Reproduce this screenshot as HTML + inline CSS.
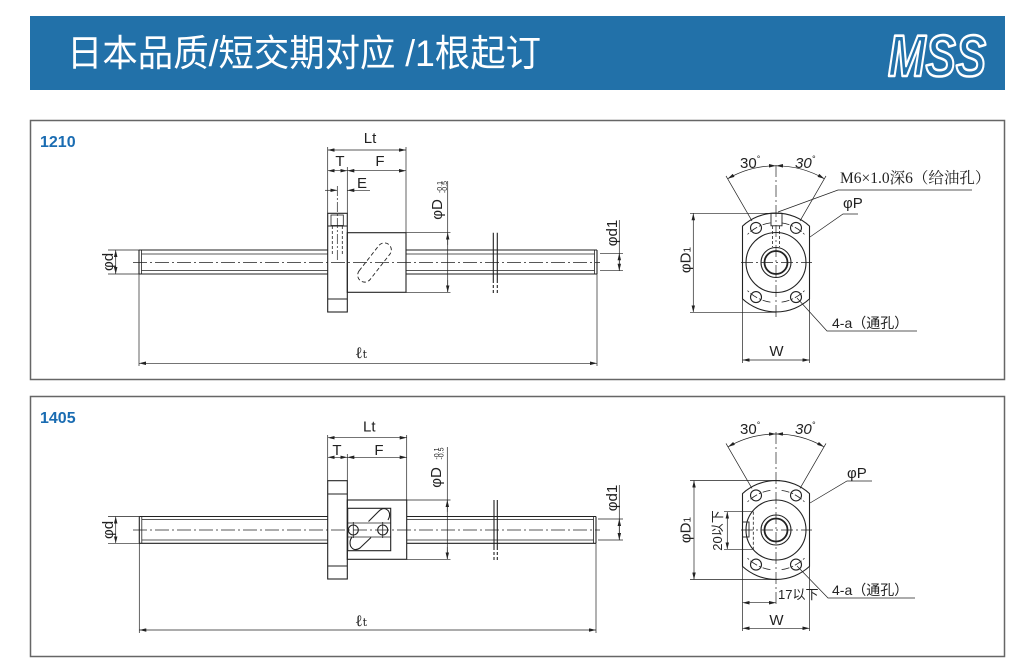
<!DOCTYPE html>
<html><head><meta charset="utf-8"><style>html,body{margin:0;padding:0;background:#fff}svg{display:block}</style></head>
<body>
<svg width="1031" height="664" viewBox="0 0 1031 664" xmlns="http://www.w3.org/2000/svg">
<defs>
<marker id="a" viewBox="0 0 8 4" refX="8" refY="2" markerWidth="7" markerHeight="3.5" markerUnits="userSpaceOnUse" orient="auto-start-reverse"><path d="M0,0L8,2L0,4z" fill="#222"/></marker>
</defs>
<rect x="30" y="16" width="975" height="74" fill="#2271a9"/>
<text x="67" y="66" font-family="'Liberation Sans','Noto Sans CJK SC',sans-serif" font-size="37" fill="#fff" textLength="474" lengthAdjust="spacingAndGlyphs">日本品质/短交期对应 /1根起订</text>
<text x="888" y="76" font-family="'Liberation Sans',sans-serif" font-weight="bold" font-style="italic" font-size="58" fill="#2271a9" stroke="#fff" stroke-width="2.6" stroke-linejoin="round" textLength="98" lengthAdjust="spacingAndGlyphs">MSS</text>

<rect x="30.5" y="120.5" width="974" height="259" fill="none" stroke="#666" stroke-width="1.5"/>
<rect x="30.5" y="396.5" width="974" height="260" fill="none" stroke="#666" stroke-width="1.5"/>

<g font-family="'Liberation Sans',sans-serif" font-weight="bold" font-size="16" fill="#1a6cb2">
<text x="40" y="147">1210</text>
<text x="40" y="423">1405</text>
</g>

<!-- ============ PANEL 1 LEFT ============ -->
<g stroke="#222" fill="none" stroke-width="1.1">
<path d="M139,250H328M139,274H328M139,250V274M406,250H597M406,274H597M597,250V274"/>
<path d="M141.5,254H328M141.5,270.5H328M141.5,250V274M406,254H594.5M406,270.5H594.5M594.5,250V274" stroke-width="0.8"/>
<rect x="327.7" y="213.3" width="19.6" height="98.7"/>
<path d="M327.7,226H347.3M327.7,299H347.3"/>
<rect x="331" y="215" width="12.3" height="10.5" stroke-width="0.8"/>
<path d="M332.3,226V256M342.3,226V256" stroke-dasharray="3 2" stroke-width="0.8"/>
<rect x="347.3" y="232.7" width="58.7" height="59.6"/>
<rect x="-23" y="-7" width="46" height="14" rx="7" transform="translate(374.5,262.5) rotate(-52)" stroke-dasharray="4 2.5" stroke-width="0.9"/>
<path d="M133,262.5H600" stroke-dasharray="14 3 2 3" stroke-width="0.8"/>
<path d="M337.3,186V262" stroke-dasharray="10 2 2 2" stroke-width="0.7"/>
<path d="M493.3,232.7V283M497.3,232.7V283"/>
<path d="M493.3,285V293.3M497.3,285V293.3" stroke-dasharray="3 2"/>
</g>
<g stroke="#222" fill="none" stroke-width="0.7">
<path d="M327.7,150H406" marker-start="url(#a)" marker-end="url(#a)"/>
<path d="M327.7,147V213.3M406,147V232.7M347.3,167V213.3"/>
<path d="M327.7,170.7H347.3" marker-start="url(#a)" marker-end="url(#a)"/>
<path d="M347.3,170.7H406" marker-start="url(#a)" marker-end="url(#a)"/>
<path d="M325,190.3H337.3" marker-end="url(#a)"/>
<path d="M370,190.3H347.3" marker-end="url(#a)"/>
<path d="M447.7,181V292.3M406,232.7H450.5M406,292.3H450.5"/>
<path d="M447.7,245V232.7" marker-end="url(#a)"/>
<path d="M447.7,280V292.3" marker-end="url(#a)"/>
<path d="M619.3,220V270.7M600,253.3H623M600,270.7H623"/>
<path d="M619.3,262V253.3" marker-end="url(#a)"/>
<path d="M619.3,262V270.7" marker-end="url(#a)"/>
<path d="M139,363.3H597" marker-start="url(#a)" marker-end="url(#a)"/>
<path d="M139,274V366M597,274V366"/>
<path d="M115.7,250V274" marker-start="url(#a)" marker-end="url(#a)"/>
<path d="M108,250H139M108,274H139"/>
</g>
<g font-family="'Liberation Sans',sans-serif" font-size="15" fill="#222" text-anchor="middle">
<text x="370" y="143">Lt</text>
<text x="340" y="166">T</text>
<text x="380" y="166">F</text>
<text x="362" y="188">E</text>
<text transform="translate(113,262) rotate(-90)">φd</text>
<text transform="translate(442,209.5) rotate(-90)">φD</text>
<text transform="translate(442,187) rotate(-90)" font-size="7">-0.1</text>
<text transform="translate(447,187) rotate(-90)" font-size="7">-0.5</text>
<text transform="translate(617,233) rotate(-90)">φd1</text>
</g>
<text x="355" y="358" font-family="'DejaVu Serif','Liberation Serif',serif" font-size="16" fill="#222">ℓ<tspan font-size="11">t</tspan></text>

<!-- ============ PANEL 1 RIGHT ============ -->
<g stroke="#222" fill="none" stroke-width="1.1">
<path d="M742.5,226.1A49.5,49.5 0 0 1 809.5,226.1L809.5,298.9A49.5,49.5 0 0 1 742.5,298.9Z"/>
<circle cx="776" cy="262.5" r="30"/>
<circle cx="776" cy="262.5" r="15"/>
<circle cx="776" cy="262.5" r="11.5" stroke-width="1.8"/>
<circle cx="756" cy="227.9" r="5.5"/>
<circle cx="796" cy="227.9" r="5.5"/>
<circle cx="756" cy="297.1" r="5.5"/>
<circle cx="796" cy="297.1" r="5.5"/>
<path d="M770.4,222.9A40,40 0 0 0 746.3,235.7M781.6,222.9A40,40 0 0 1 805.7,235.7M770.4,302.1A40,40 0 0 1 746.3,289.3M781.6,302.1A40,40 0 0 0 805.7,289.3" stroke-dasharray="8 2 2 2" stroke-width="0.8"/>
<rect x="771" y="213.3" width="11" height="12.5" stroke-width="0.9"/>
<path d="M772.5,226V247M779.5,226V247" stroke-dasharray="3 2" stroke-width="0.8"/>
<path d="M776,165V318M741,262.5H812" stroke-dasharray="12 3 2 3" stroke-width="0.7"/>
</g>
<g stroke="#222" fill="none" stroke-width="0.7">
<path d="M752,220.9L726,175.9M800,220.9L826,175.9"/>
<path d="M776,165.8A96.7,96.7 0 0 0 727.6,178.8" marker-start="url(#a)" marker-end="url(#a)"/>
<path d="M776,165.8A96.7,96.7 0 0 1 824.4,178.8" marker-start="url(#a)" marker-end="url(#a)"/>
<path d="M778,212L838,190H972"/>
<path d="M810,237L843,214H858"/>
<path d="M797,298L827,331H917"/>
<path d="M693.3,213.3V312.3" marker-start="url(#a)" marker-end="url(#a)"/>
<path d="M690,213.3H781M690,312.3H776"/>
<path d="M742.5,360H809.5" marker-start="url(#a)" marker-end="url(#a)"/>
<path d="M742.5,299V363M809.5,299V363"/>
</g>
<g font-family="'Liberation Sans','Noto Sans CJK SC',sans-serif" font-size="15" fill="#222">
<text x="740" y="168">30<tspan font-size="9" dy="-6">°</tspan></text>
<text x="795" y="168" font-style="italic">30<tspan font-size="9" dy="-6">°</tspan></text>
<text x="843" y="208">φP</text>
<text x="832" y="328" font-size="14">4-a（通孔）</text>
<text x="776.5" y="356" text-anchor="middle">W</text>
<text transform="translate(690.7,260) rotate(-90)" text-anchor="middle">φD<tspan font-size="10">1</tspan></text>
</g>
<text x="840" y="183" font-family="'Liberation Serif','Noto Serif CJK SC',serif" font-size="15.5" fill="#222">M6×1.0深6（给油孔）</text>

<!-- ============ PANEL 2 LEFT ============ -->
<g stroke="#222" fill="none" stroke-width="1.1">
<path d="M139.3,516.5H328M139.3,543.3H328M139.3,516.5V543.3M406.7,516.5H596M406.7,543.3H596M596,516.5V543.3"/>
<path d="M141.8,519.5H328M141.8,540H328M141.8,516.5V543.3M406.7,519.5H593.5M406.7,540H593.5M593.5,516.5V543.3" stroke-width="0.8"/>
<rect x="327.7" y="480.7" width="19.6" height="98.3"/>
<path d="M327.7,494H347.3M327.7,566H347.3"/>
<rect x="347.3" y="500" width="59.4" height="59.3"/>
<rect x="347.7" y="508.3" width="43" height="42.4"/>
<path d="M348,523H390.7M348,537H390.7" stroke-width="0.8"/>
<path d="M368.5,521.5L378.5,511.5Q384,506 388.5,511Q391,515 388,520"/>
<path d="M371,537.5L360,548Q354,552 350.5,546Q349,541 352,537"/>
<circle cx="353.3" cy="530" r="5"/>
<circle cx="382.7" cy="530" r="5"/>
<path d="M353.3,522V538M382.7,522V538" stroke-width="0.8"/>
<path d="M133,530H600" stroke-dasharray="14 3 2 3" stroke-width="0.8"/>
<path d="M494,500V550M497.3,500V550"/>
<path d="M494,552V560M497.3,552V560" stroke-dasharray="3 2"/>
</g>
<g stroke="#222" fill="none" stroke-width="0.7">
<path d="M327.7,437.7H406.7" marker-start="url(#a)" marker-end="url(#a)"/>
<path d="M327.7,435V480.7M406.7,435V500M347.3,454V480.7"/>
<path d="M327.7,457.3H347.3" marker-start="url(#a)" marker-end="url(#a)"/>
<path d="M347.3,457.3H406.7" marker-start="url(#a)" marker-end="url(#a)"/>
<path d="M447.3,447V559.3M406.7,500H450.5M406.7,559.3H450.5"/>
<path d="M447.3,512V500" marker-end="url(#a)"/>
<path d="M447.3,547V559.3" marker-end="url(#a)"/>
<path d="M619.3,485V540M598,519H623M598,540H623"/>
<path d="M619.3,530V519" marker-end="url(#a)"/>
<path d="M619.3,530V540" marker-end="url(#a)"/>
<path d="M139.3,630H596" marker-start="url(#a)" marker-end="url(#a)"/>
<path d="M139.3,543.3V633M596,543.3V633"/>
<path d="M115.7,516.5V543.3" marker-start="url(#a)" marker-end="url(#a)"/>
<path d="M108,516.5H139.3M108,543.3H139.3"/>
</g>
<g font-family="'Liberation Sans',sans-serif" font-size="15" fill="#222" text-anchor="middle">
<text x="369.3" y="431.5">Lt</text>
<text x="337" y="455">T</text>
<text x="379" y="455">F</text>
<text transform="translate(113,530) rotate(-90)">φd</text>
<text transform="translate(441,477.5) rotate(-90)">φD</text>
<text transform="translate(438.8,453.5) rotate(-90)" font-size="7">-0.1</text>
<text transform="translate(443.5,453.5) rotate(-90)" font-size="7">-0.5</text>
<text transform="translate(617,498) rotate(-90)">φd1</text>
</g>
<text x="355" y="626" font-family="'DejaVu Serif','Liberation Serif',serif" font-size="16" fill="#222">ℓ<tspan font-size="11">t</tspan></text>

<!-- ============ PANEL 2 RIGHT ============ -->
<g stroke="#222" fill="none" stroke-width="1.1">
<path d="M742.5,493.6A49.5,49.5 0 0 1 809.5,493.6L809.5,566.4A49.5,49.5 0 0 1 742.5,566.4Z"/>
<circle cx="776" cy="530" r="30"/>
<circle cx="776" cy="530" r="15"/>
<circle cx="776" cy="530" r="11.5" stroke-width="1.8"/>
<circle cx="756" cy="495.4" r="5.5"/>
<circle cx="796" cy="495.4" r="5.5"/>
<circle cx="756" cy="564.6" r="5.5"/>
<circle cx="796" cy="564.6" r="5.5"/>
<path d="M770.4,490.4A40,40 0 0 0 746.3,503.2M781.6,490.4A40,40 0 0 1 805.7,503.2M770.4,569.6A40,40 0 0 1 746.3,556.8M781.6,569.6A40,40 0 0 0 805.7,556.8" stroke-dasharray="8 2 2 2" stroke-width="0.8"/>
<rect x="742.5" y="522" width="6.5" height="15" stroke-width="0.9"/>
<path d="M753.3,511.7V549.3" stroke-dasharray="3 2" stroke-width="0.8"/>
<path d="M776,432V605M741,530H812" stroke-dasharray="12 3 2 3" stroke-width="0.7"/>
</g>
<g stroke="#222" fill="none" stroke-width="0.7">
<path d="M752,488.4L726,443.4M800,488.4L826,443.4"/>
<path d="M776,434A96,96 0 0 0 728,446.9" marker-start="url(#a)" marker-end="url(#a)"/>
<path d="M776,434A96,96 0 0 1 824,446.9" marker-start="url(#a)" marker-end="url(#a)"/>
<path d="M810,503L847,481H872"/>
<path d="M797,566L828,598H915"/>
<path d="M694,480.5V579.5" marker-start="url(#a)" marker-end="url(#a)"/>
<path d="M690,480.5H780M690,579.5H776"/>
<path d="M727.3,511.7V549.3" marker-start="url(#a)" marker-end="url(#a)"/>
<path d="M724,511.7H753.3M724,549.3H753.3"/>
<path d="M742.5,602.7H776" marker-start="url(#a)" marker-end="url(#a)"/>
<path d="M742.5,628.3H809.5" marker-start="url(#a)" marker-end="url(#a)"/>
<path d="M742.5,566V631M809.5,566V631"/>
</g>
<g font-family="'Liberation Sans','Noto Sans CJK SC',sans-serif" font-size="15" fill="#222">
<text x="740" y="434">30<tspan font-size="9" dy="-6">°</tspan></text>
<text x="795" y="434" font-style="italic">30<tspan font-size="9" dy="-6">°</tspan></text>
<text x="847" y="478">φP</text>
<text x="832" y="595" font-size="14">4-a（通孔）</text>
<text x="776.5" y="625" text-anchor="middle">W</text>
<text transform="translate(690.7,530) rotate(-90)" text-anchor="middle">φD<tspan font-size="10">1</tspan></text>
<text transform="translate(722,530.5) rotate(-90)" text-anchor="middle" font-size="13">20以下</text>
<text x="778" y="599" font-size="13">17以下</text>
</g>
</svg>
</body></html>
